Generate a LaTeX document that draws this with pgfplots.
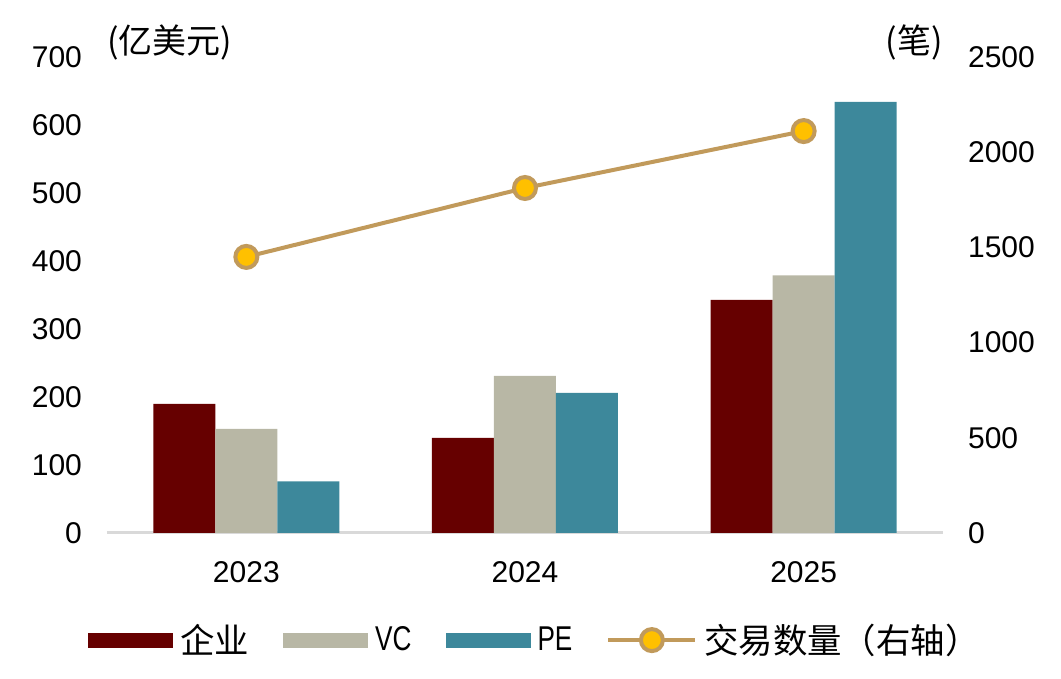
\documentclass[border=0pt]{standalone}
\usepackage{pgfplots}
\pgfplotsset{compat=1.18}
\usepackage{fontspec}
\setmainfont{Liberation Sans}
\newfontfamily\cjk{Noto Sans CJK SC}
\newfontfamily\narrowfont[FakeStretch=0.76]{Liberation Sans}
\definecolor{cQY}{HTML}{660000}
\definecolor{cVC}{HTML}{B8B7A5}
\definecolor{cPE}{HTML}{3D889B}
\definecolor{cLine}{HTML}{C19A5B}
\definecolor{cMark}{HTML}{FFC000}
\definecolor{cBase}{HTML}{D9D9D9}
\pgfplotsset{
  barleg/.style={legend image code/.code={\fill[#1] (0pt,-3.75pt) rectangle (42.5pt,3.75pt);}},
  lineleg/.style={legend image code/.code={\draw[#1,mark=none] (0pt,0pt) -- (43.5pt,0pt); \draw[#1] plot coordinates {(21.75pt,0pt)};}},
  linestyle/.style={color=cLine, line width=2pt, mark=*, mark size=5.5pt,
  mark options={fill=cMark, draw=cLine, line width=2pt}},
  mybar/.style={ybar, bar width=31pt, draw=none, bar shift=#1},
}
\begin{document}
\begin{tikzpicture}
\pgfplotsset{
  every axis/.style={
    width=418pt, height=238pt, scale only axis,
    xmin=-0.5, xmax=2.5,
    /pgf/number format/assume math mode=true,
    /pgf/number format/1000 sep={},
    tick label style={font=\fontsize{15}{18}\selectfont},
    major tick length=0pt,
  },
}
\begin{axis}[
  name=main,
  ymin=0, ymax=700, ytick={0,100,...,700},
  xtick={0,1,2}, xticklabels={2023,2024,2025},
  axis y line*=left, axis x line*=bottom,
  y axis line style={draw=none},
  x axis line style={draw=cBase, line width=1.5pt, -},
  yticklabel style={xshift=-9pt},
  xticklabel style={yshift=-10.5pt},
  legend style={draw=none, at={(0.5,-0.225)}, anchor=center, xshift=5.5pt,
    font=\cjk\fontsize{17.2}{20}\selectfont, legend columns=4,
    /tikz/every odd column/.append style={column sep=1.5pt},
    /tikz/every even column/.append style={column sep=15pt}},
  legend cell align=left,
]
\addplot[mybar=-31pt, fill=cQY, barleg] coordinates {(0,190) (1,140) (2,343)};
\addplot[mybar=0pt, fill=cVC, barleg] coordinates {(0,153) (1,231) (2,379)};
\addplot[mybar=31pt, fill=cPE, barleg] coordinates {(0,76) (1,206) (2,634)};
\addlegendimage{linestyle, lineleg}
\legend{企业,\narrowfont VC,\narrowfont PE,交易数量（右轴）}
\end{axis}
\begin{axis}[
  ymin=0, ymax=2500, ytick={0,500,...,2500},
  axis y line*=right, axis x line=none,
  y axis line style={draw=none},
  yticklabel style={xshift=9pt},
]
\addplot[linestyle] coordinates {(0,1450) (1,1812) (2,2111)};
\end{axis}
\node[anchor=west, font=\cjk\fontsize{17}{20}\selectfont, inner sep=0pt] at ([yshift=7.5pt]main.north west) {(亿美元)};
\node[anchor=east, font=\cjk\fontsize{17}{20}\selectfont, inner sep=0pt] at ([yshift=7.5pt]main.north east) {(笔)};
\path ([xshift=-53.5pt,yshift=-73pt]main.south west) rectangle ([xshift=59pt,yshift=28.5pt]main.north east);
\end{tikzpicture}
\end{document}
